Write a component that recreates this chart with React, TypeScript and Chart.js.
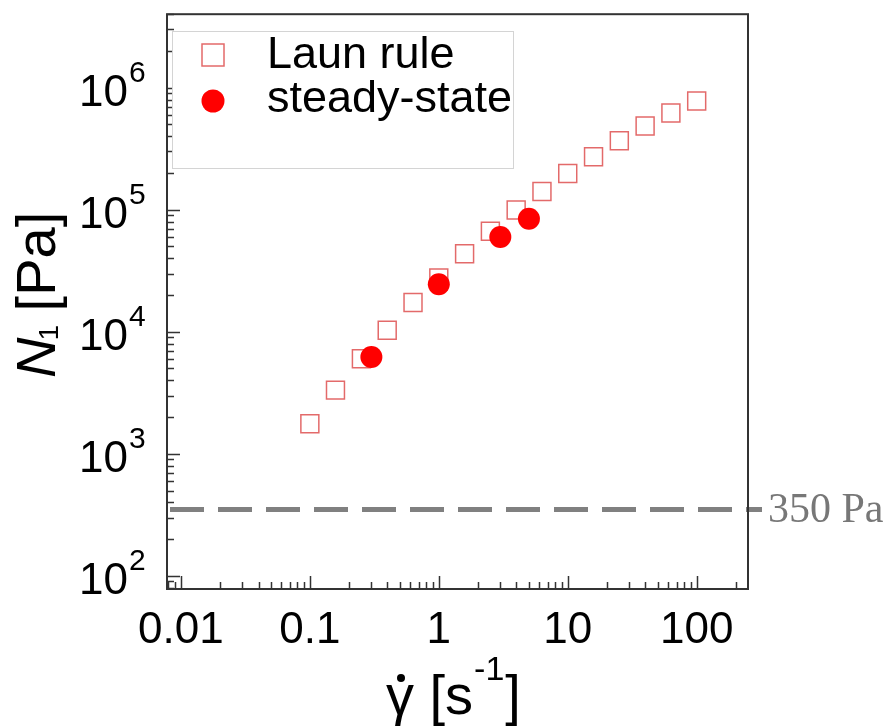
import React, { useEffect, useRef } from 'react';
import { Chart, registerables } from 'chart.js';

Chart.register(...registerables);

// ---- data ----
const seriesLabels = ['Laun rule', 'steady-state'];
const launShear = [0.1, 0.158, 0.251, 0.398, 0.631, 1, 1.585, 2.512, 3.981, 6.31, 10, 15.85, 25.12, 39.81, 63.1, 100];
const launN1 = [1760, 3325, 6010, 10290, 17380, 27590, 43500, 66500, 99600, 141000, 198000, 272000, 367000, 486000, 621000, 777000];
const steadyShear = [0.3, 1, 3, 5];
const steadyN1 = [6200, 24500, 59700, 84200];

const xTickValues = [0.01, 0.1, 1, 10, 100];
const xTickLabels = ['0.01', '0.1', '1', '10', '100'];
const yTickValues = [1e2, 1e3, 1e4, 1e5, 1e6];
const yTickExponents = ['2', '3', '4', '5', '6'];
const xRange = [0.0078, 250];
const yRange = [78, 4e6];

const thresholdValue = 350;
const thresholdLabel = '350 Pa';

const SANS = '"Liberation Sans", Arial, Helvetica, sans-serif';
const SERIF = '"Liberation Serif", "Times New Roman", serif';
const SQUARE_COLOR = '#e36a6a';
const CIRCLE_COLOR = '#ff0000';
const FRAME_COLOR = '#333333';

const overlayPlugin = {
  id: 'overlay',
  afterDraw(chart: any) {
    const { ctx, chartArea: a, scales } = chart;
    const xs = scales.x;
    const ys = scales.y;
    ctx.save();

    // threshold dashed line + label
    const ty = ys.getPixelForValue(thresholdValue);
    ctx.strokeStyle = '#808080';
    ctx.lineWidth = 5;
    ctx.setLineDash([34, 14]);
    ctx.beginPath();
    ctx.moveTo(a.left + 3, ty);
    ctx.lineTo(a.right + 14, ty);
    ctx.stroke();
    ctx.setLineDash([]);
    ctx.fillStyle = '#777777';
    ctx.font = '42px ' + SERIF;
    ctx.textAlign = 'left';
    ctx.textBaseline = 'alphabetic';
    ctx.fillText(thresholdLabel, a.right + 20, ty + 13);

    // frame
    ctx.strokeStyle = FRAME_COLOR;
    ctx.lineWidth = 2;
    ctx.strokeRect(a.left, a.top, a.right - a.left, a.bottom - a.top);

    // ticks (inward)
    ctx.lineWidth = 1.5;
    const major = 13;
    const minor = 7;
    ctx.beginPath();
    for (let e = -3; e <= 3; e++) {
      for (let m = 1; m <= 9; m++) {
        const v = m * Math.pow(10, e);
        if (v < xs.min || v > xs.max) continue;
        const px = Math.round(xs.getPixelForValue(v)) + 0.5;
        const len = m === 1 ? major : minor;
        ctx.moveTo(px, a.bottom);
        ctx.lineTo(px, a.bottom - len);
      }
    }
    for (let e = 0; e <= 7; e++) {
      for (let m = 1; m <= 9; m++) {
        const v = m * Math.pow(10, e);
        if (v < ys.min || v > ys.max) continue;
        const py = Math.round(ys.getPixelForValue(v)) + 0.5;
        const len = m === 1 ? major : minor;
        ctx.moveTo(a.left, py);
        ctx.lineTo(a.left + len, py);
      }
    }
    ctx.stroke();

    // x tick labels
    ctx.fillStyle = '#000000';
    ctx.font = '44px ' + SANS;
    ctx.textAlign = 'center';
    ctx.textBaseline = 'alphabetic';
    xTickValues.forEach((v, i) => {
      ctx.fillText(xTickLabels[i], xs.getPixelForValue(v), a.bottom + 54);
    });

    // y tick labels with superscript
    yTickValues.forEach((v, i) => {
      const py = ys.getPixelForValue(v);
      ctx.font = '44px ' + SANS;
      ctx.textAlign = 'right';
      ctx.fillText('10', a.left - 39, py + 18);
      ctx.font = '30px ' + SANS;
      ctx.textAlign = 'left';
      ctx.fillText(yTickExponents[i], a.left - 38, py - 6);
    });

    // x axis title: gamma-dot [s^-1]
    {
      let x = 386;
      const base = 714;
      ctx.textAlign = 'left';
      ctx.font = '56px ' + SANS;
      const g = '\u03b3';
      const gw = ctx.measureText(g).width;
      ctx.fillText(g, x, base);
      ctx.beginPath();
      ctx.arc(x + gw / 2 + 1, base - 36, 4, 0, Math.PI * 2);
      ctx.fill();
      x += gw;
      const part1 = ' [s';
      ctx.fillText(part1, x, base);
      x += ctx.measureText(part1).width;
      ctx.font = '34px ' + SANS;
      ctx.fillText('-1', x + 1, base - 34);
      x += ctx.measureText('-1').width + 2;
      ctx.font = '56px ' + SANS;
      ctx.fillText(']', x, base);
    }

    // y axis title: N_1 [Pa] (rotated)
    {
      ctx.save();
      ctx.translate(55, 378);
      ctx.rotate(-Math.PI / 2);
      ctx.textAlign = 'left';
      let x = 0;
      ctx.font = 'italic 56px ' + SANS;
      ctx.fillText('N', x, 0);
      x += ctx.measureText('N').width - 3;
      ctx.font = '28px ' + SANS;
      ctx.fillText('1', x, 3);
      x += ctx.measureText('1').width - 2;
      ctx.font = '56px ' + SANS;
      ctx.fillText(' [Pa]', x, 0);
      ctx.restore();
    }

    // legend
    {
      const lx = 172.5, ly = 31.5, lw = 341, lh = 137;
      ctx.fillStyle = '#ffffff';
      ctx.fillRect(lx, ly, lw, lh);
      ctx.strokeStyle = '#d4d4d4';
      ctx.lineWidth = 1;
      ctx.strokeRect(lx, ly, lw, lh);
      const ds = chart.data.datasets;
      // square marker
      ctx.strokeStyle = ds[0].borderColor;
      ctx.lineWidth = 1.5;
      ctx.strokeRect(202, 44, 22, 22);
      // circle marker
      ctx.fillStyle = ds[1].backgroundColor;
      ctx.beginPath();
      ctx.arc(213, 101, 11.5, 0, Math.PI * 2);
      ctx.fill();
      ctx.fillStyle = '#000000';
      ctx.font = '45px ' + SANS;
      ctx.textAlign = 'left';
      ctx.fillText(ds[0].label, 267, 68);
      ctx.fillText(ds[1].label, 267, 112);
    }

    ctx.restore();
  },
};

export default function App() {
  const canvasRef = useRef<HTMLCanvasElement | null>(null);

  useEffect(() => {
    const canvas = canvasRef.current;
    if (!canvas) return;
    const chart = new Chart(canvas, {
      type: 'scatter',
      data: {
        datasets: [
          {
            label: seriesLabels[0],
            data: launShear.map((x, i) => ({ x, y: launN1[i] })),
            pointStyle: 'rect',
            pointRadius: 12.7,
            borderColor: SQUARE_COLOR,
            backgroundColor: 'rgba(0,0,0,0)',
            borderWidth: 1.5,
            showLine: false,
            order: 1,
          },
          {
            label: seriesLabels[1],
            data: steadyShear.map((x, i) => ({ x, y: steadyN1[i] })),
            pointStyle: 'circle',
            pointRadius: 11,
            borderColor: CIRCLE_COLOR,
            backgroundColor: CIRCLE_COLOR,
            borderWidth: 0,
            showLine: false,
            order: 0,
          },
        ],
      },
      options: {
        responsive: false,
        animation: false,
        layout: { padding: { left: 167, top: 10, right: 140, bottom: 138 } },
        scales: {
          x: { type: 'logarithmic', min: xRange[0], max: xRange[1], display: false },
          y: { type: 'logarithmic', min: yRange[0], max: yRange[1], display: false },
        },
        plugins: {
          legend: { display: false },
          tooltip: { enabled: false },
          title: { display: false },
        },
      },
      plugins: [overlayPlugin],
    });
    return () => chart.destroy();
  }, []);

  return (
    <div style={{ position: 'fixed', left: 0, top: 0, width: 888, height: 727, background: '#ffffff' }}>
      <canvas ref={canvasRef} width={888} height={727} style={{ display: 'block', width: 888, height: 727 }} />
    </div>
  );
}
